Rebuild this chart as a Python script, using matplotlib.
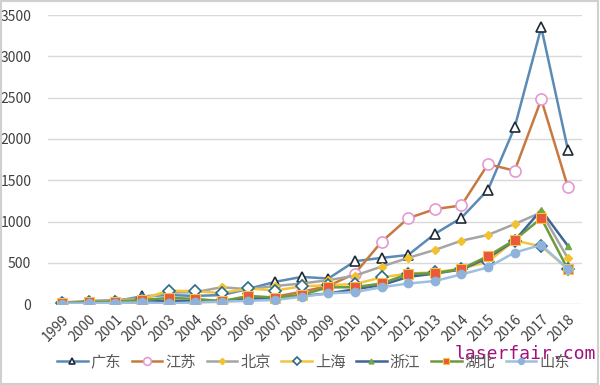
import matplotlib.pyplot as plt
from matplotlib.patches import Rectangle

plt.rcParams['font.family'] = ['Noto Sans CJK SC', 'DejaVu Sans']

# Data
years = [str(y) for y in range(1999, 2019)]
guangdong = [15, 25, 35, 95, 110, 100, 110, 185, 270, 330, 310, 520, 560, 595, 850, 1045, 1385, 2140, 3350, 1870]
jiangsu = [10, 15, 20, 20, 5, 30, 40, 60, 90, 150, 220, 370, 755, 1040, 1150, 1195, 1695, 1615, 2478, 1418]
beijing = [20, 40, 50, 70, 140, 145, 205, 180, 220, 250, 290, 345, 455, 560, 656, 768, 838, 970, 1110, 555]
shanghai = [10, 20, 30, 60, 165, 155, 135, 190, 165, 215, 230, 243, 324, 370, 385, 430, 514, 770, 700, 425]
zhejiang = [10, 15, 20, 30, 40, 40, 40, 70, 70, 100, 130, 180, 230, 330, 370, 420, 560, 770, 1140, 705]
hubei = [10, 25, 30, 50, 75, 65, 35, 100, 80, 113, 203, 205, 250, 365, 375, 425, 583, 777, 1040, 421]
shandong = [5, 10, 15, 20, 10, 20, 30, 40, 50, 90, 130, 145, 205, 250, 280, 360, 445, 625, 717, 425]

fig = plt.figure(figsize=(6, 3.85), dpi=100)
ax = fig.add_axes([0.08, 0.21, 0.89, 0.751])

x = range(len(years))
lw = 1.8
ax.plot(x, guangdong, color='#5b8bb5', lw=lw, marker='^', ms=7, mfc='white', mec='#1f2a36', mew=1.2, label='广东')
ax.plot(x, jiangsu, color='#c8793f', lw=lw, marker='o', ms=8, mfc='white', mec='#e39ad0', mew=1.2, label='江苏')
ax.plot(x, beijing, color='#a5a5a5', lw=lw, marker='D', ms=4.5, mfc='#f2c22c', mec='#f2c22c', label='北京')
ax.plot(x, shanghai, color='#f3c53e', lw=lw, marker='D', ms=6, mfc='white', mec='#2a6b8c', mew=1.2, label='上海')
ax.plot(x, zhejiang, color='#3f6598', lw=lw, marker='^', ms=5, mfc='#6faa46', mec='#6faa46', label='浙江')
ax.plot(x, hubei, color='#6e9a3e', lw=lw, marker='s', ms=7, mfc='#ea5a3a', mec='#f4c542', mew=0.8, label='湖北')
ax.plot(x, shandong, color='#9dc0e2', lw=lw, marker='o', ms=6, mfc='#8fb2da', mec='#8fb2da', label='山东')

ax.set_xlim(-0.53, 19.53)
ax.set_ylim(0, 3500)
ax.set_yticks(range(0, 3501, 500))
ax.set_xticks(list(x))
ax.set_xticklabels(years, rotation=45, ha='right', rotation_mode='anchor')
ax.tick_params(length=0, labelsize=10, colors='#404040', pad=6)
ax.tick_params(axis='y', pad=12)
ax.grid(axis='y', color='#d9d9d9', lw=1)
ax.set_axisbelow(True)
for s in ax.spines.values():
    s.set_visible(False)

fig.legend(loc='center left', bbox_to_anchor=(0.072, 1 - 362 / 385), ncol=7, frameon=False,
           fontsize=11, handlelength=2.0, columnspacing=0.7, handletextpad=0.2,
           markerscale=0.7, labelcolor='#595959')

fig.text(0.757, 1 - 354 / 385, 'laserfair.com', family='DejaVu Sans Mono', fontsize=13,
         color='#a3107f', va='center')

fig.patches.append(Rectangle((0.002, 0.003), 0.995, 0.994, transform=fig.transFigure,
                             fill=False, ec='#d0d0d0', lw=1.5))

fig.savefig('out.png', dpi=100)
